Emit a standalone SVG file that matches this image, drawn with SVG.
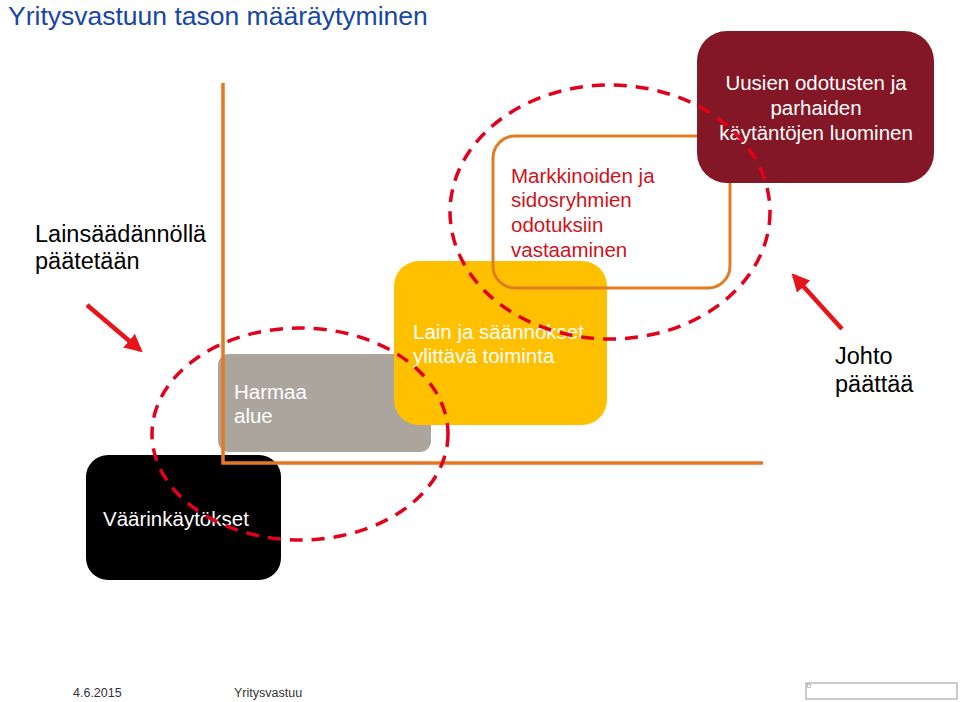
<svg xmlns="http://www.w3.org/2000/svg" width="960" height="702" viewBox="0 0 960 702">
<style>
text{font-family:"Liberation Sans",Arial,sans-serif}
.w{fill:#fff;font-size:20.5px}
.lab{fill:#000;font-size:23.5px}
.dash{fill:none;stroke:#E2001A;stroke-width:3.5;stroke-dasharray:13 9}
.arr{stroke:#E8141B;stroke-width:4.5;fill:none}
.foot{fill:#333;font-size:12.5px}
</style>
<defs>
<marker id="ah" viewBox="0 0 10 10" refX="8" refY="5" markerWidth="4" markerHeight="4" orient="auto" markerUnits="strokeWidth">
<path d="M0,0 L10,5 L0,10 z" fill="#E8141B"/>
</marker>
</defs>
<rect width="960" height="702" fill="#fff"/>
<text x="8" y="25" style="font-size:26.5px;fill:#1747A6">Yritysvastuun tason määräytyminen</text>
<g id="label-lainsaadanto">
<text class="lab" x="35" y="242">Lainsäädännöllä</text>
<text class="lab" x="35" y="269">päätetään</text>
</g>
<g id="label-johto">
<text class="lab" x="835" y="364">Johto</text>
<text class="lab" x="835" y="392">päättää</text>
</g>
<g id="node-harmaa">
<rect x="218" y="354" width="213" height="98" rx="11" fill="#ACA59D"/>
<text class="w" x="234" y="399">Harmaa</text>
<text class="w" x="234" y="423">alue</text>
</g>
<g id="node-vaarinkaytokset">
<rect x="86" y="455" width="195" height="125" rx="22" fill="#000"/>
<text class="w" x="103" y="526">Väärinkäytökset</text>
</g>
<g id="axes">
<path d="M223,83 L223,463 L763,463" fill="none" stroke="#E87722" stroke-width="3.5"/>
</g>
<g id="node-lain">
<rect x="394" y="261" width="213" height="164" rx="25" fill="#FFC000"/>
<text class="w" x="413" y="339">Lain ja säännökset</text>
<text class="w" x="413" y="363">ylittävä toiminta</text>
</g>
<g id="node-markkinoiden">
<rect x="493" y="136" width="237" height="152" rx="22" fill="none" stroke="#E07C22" stroke-width="3"/>
<text x="511" y="183" style="fill:#D0121B;font-size:20.5px">Markkinoiden ja</text>
<text x="511" y="207" style="fill:#D0121B;font-size:20.5px">sidosryhmien</text>
<text x="511" y="232" style="fill:#D0121B;font-size:20.5px">odotuksiin</text>
<text x="511" y="257" style="fill:#D0121B;font-size:20.5px">vastaaminen</text>
</g>
<g id="node-uusien">
<rect x="697" y="31" width="237" height="152" rx="30" fill="#841726"/>
<text class="w" x="816" y="90" text-anchor="middle">Uusien odotusten ja</text>
<text class="w" x="816" y="115" text-anchor="middle">parhaiden</text>
<text class="w" x="816" y="140" text-anchor="middle">käytäntöjen luominen</text>
</g>
<g id="connectors">
<ellipse class="dash" cx="610" cy="212" rx="160" ry="127"/>
<ellipse class="dash" cx="300" cy="434" rx="148" ry="106"/>
<line class="arr" x1="87" y1="305" x2="140" y2="350" marker-end="url(#ah)"/>
<line class="arr" x1="842" y1="329" x2="794" y2="276" marker-end="url(#ah)"/>
</g>
<g id="footer">
<text class="foot" x="73" y="697">4.6.2015</text>
<text class="foot" x="234" y="697">Yritysvastuu</text>
<rect x="806" y="683" width="151" height="16" fill="none" stroke="#999" stroke-width="1"/>
<rect x="807.5" y="684.5" width="3" height="3" fill="none" stroke="#999" stroke-width="0.6"/>
</g>
</svg>
